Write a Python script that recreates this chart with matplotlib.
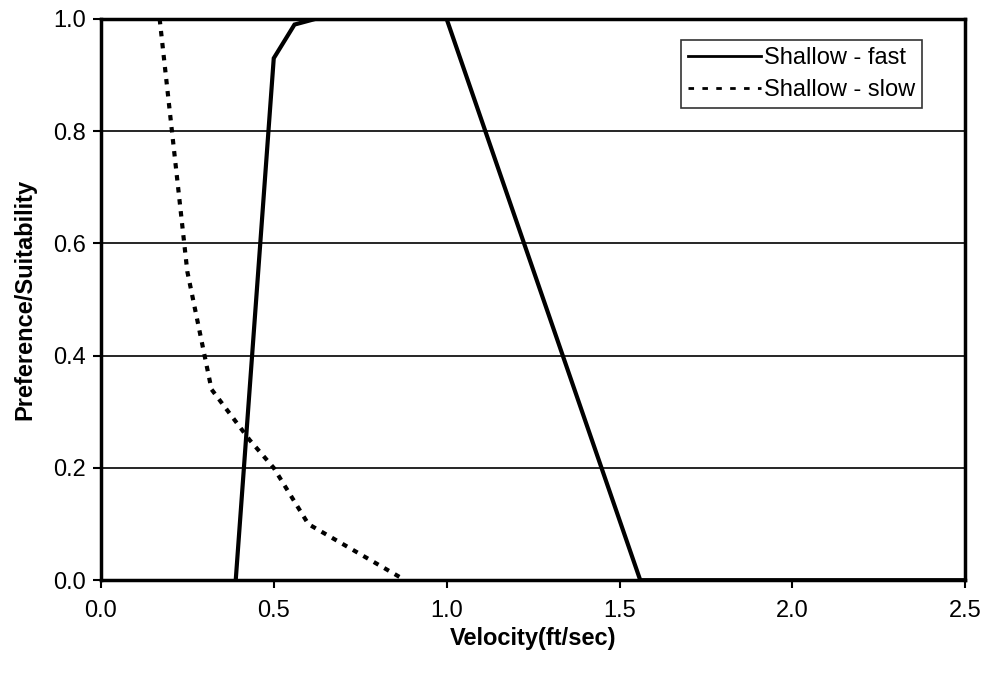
import matplotlib.pyplot as plt
from matplotlib.lines import Line2D

plt.rcParams['font.family'] = ['Liberation Sans', 'DejaVu Sans']

# Shallow - fast curve
fast_v = [0.39, 0.50, 0.56, 0.62, 1.00, 1.56, 2.50]
fast_s = [0.00, 0.93, 0.99, 1.00, 1.00, 0.00, 0.00]

# Shallow - slow curve
slow_v = [0.17, 0.25, 0.32, 0.43, 0.50, 0.60, 0.88]
slow_s = [1.00, 0.55, 0.34, 0.25, 0.20, 0.10, 0.00]

xticks = [0.0, 0.5, 1.0, 1.5, 2.0, 2.5]
yticks = [0.0, 0.2, 0.4, 0.6, 0.8, 1.0]

fig = plt.figure(figsize=(9.89, 6.77), dpi=100)
ax = fig.add_axes([0.102, 0.143, 0.874, 0.829])

# grid lines
for y in yticks[1:-1]:
    ax.axhline(y, color='black', linewidth=1.2, zorder=1)

ax.plot(fast_v, fast_s, color='black', linewidth=3, solid_joinstyle='miter', zorder=3)
ax.plot(slow_v, slow_s, color='black', linewidth=3, linestyle=(0, (1.3, 1.6)), zorder=3)

ax.set_xlim(0, 2.5)
ax.set_ylim(0, 1.0)
ax.set_xticks(xticks)
ax.set_yticks(yticks)
ax.set_xticklabels(['%.1f' % v for v in xticks])
ax.set_yticklabels(['%.1f' % v for v in yticks])
ax.tick_params(direction='out', length=6, width=1.5, labelsize=17, pad=8)
ax.tick_params(axis='y', pad=5)

for side in ['left', 'right', 'top', 'bottom']:
    ax.spines[side].set_linewidth(2.5)

ax.set_xlabel('Velocity(ft/sec)', fontsize=17, fontweight='bold', labelpad=4)
ax.set_ylabel('Preference/Suitability', fontsize=17, fontweight='bold', labelpad=12)

handles = [Line2D([], [], color='black', linewidth=2),
           Line2D([], [], color='black', linewidth=2, linestyle=(0, (2, 3)))]
leg = ax.legend(handles, ['Shallow - fast', 'Shallow - slow'], loc='upper right',
                bbox_to_anchor=(0.950, 0.962), fontsize=17, frameon=True, fancybox=False,
                edgecolor='black', handlelength=3.1, handletextpad=0.1, borderpad=0.3,
                labelspacing=0.4, borderaxespad=0)
leg.get_frame().set_linewidth(1.2)

fig.savefig('out.png', dpi=100)
